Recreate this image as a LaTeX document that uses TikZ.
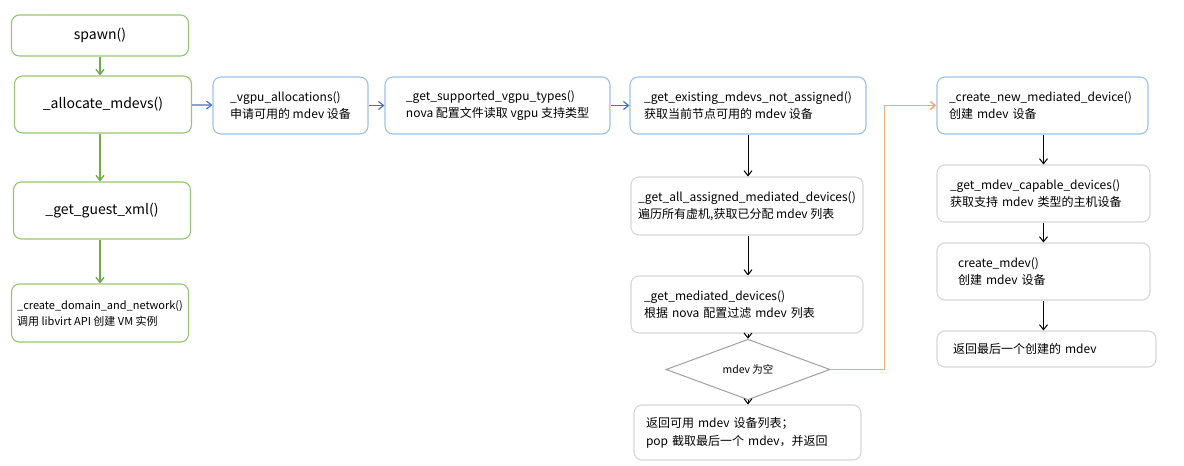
\documentclass[tikz,border=0pt]{standalone}
\usepackage{fontspec}
\setmainfont{Noto Sans CJK SC}
\definecolor{flow_green}{RGB}{150, 198, 115}
\definecolor{flow_garrow}{RGB}{112, 173, 71}
\definecolor{flow_blue}{RGB}{157, 195, 230}
\definecolor{flow_barrow}{RGB}{68, 114, 196}
\definecolor{flow_gray}{RGB}{215, 215, 215}
\definecolor{flow_dgray}{RGB}{160, 160, 160}
\definecolor{flow_orange}{RGB}{244, 170, 115}
\usetikzlibrary{arrows.meta, positioning, shapes.geometric}

\begin{document}
\begin{tikzpicture}[
        x=1pt, y=-1pt,
        box/.style={rounded corners=8pt, fill=white, line width=1.1pt,
                    minimum height=57pt, inner sep=0pt, align=left,
                    font=\fontsize{12}{17}\selectfont},
        gbox/.style={box, draw=flow_green, minimum width=177pt},
        bbox/.style={box, draw=flow_blue},
        hbox/.style={box, draw=flow_gray},
        cond/.style={diamond, draw=flow_dgray, line width=1pt, fill=white,
                     minimum width=164pt, minimum height=43pt, inner sep=0pt,
                     font=\fontsize{10.5}{12}\selectfont},
        tip/.style={-{Straight Barb[length=5pt, width=8pt]}},
        garr/.style={tip, flow_garrow, line width=1.4pt},
        barr/.style={tip, flow_barrow, line width=1.2pt},
        karr/.style={tip, black, line width=1pt},
        oarr/.style={-{Straight Barb[length=5pt, width=8pt]}, flow_orange, line width=1.5pt},
      ]
        \useasboundingbox (0,0) rectangle (1184,466);

        \node[gbox, minimum height=41pt, font=\fontsize{14}{16}\selectfont] (spawn) at (100,35.5) {spawn()};
        \node[gbox, font=\fontsize{14}{16}\selectfont] (alloc) at (103,104.5) {\_allocate\_mdevs()};
        \node[gbox, font=\fontsize{14}{16}\selectfont] (guest) at (102,210.5) {\_get\_guest\_xml()};
        \node[gbox, minimum height=58pt, font=\fontsize{11}{16}\selectfont] (domain) at (100,313)
            {\_create\_domain\_and\_network()\\调用 libvirt API 创建 VM 实例};

        \node[bbox, minimum width=155pt] (vgpu) at (290.5,105.5) {\_vgpu\_allocations()\\申请可用的 mdev 设备};
        \node[bbox, minimum width=225pt] (types) at (497.5,105.5) {\_get\_supported\_vgpu\_types()\\nova 配置文件读取 vgpu 支持类型};
        \node[bbox, minimum width=236pt] (existing) at (748,105.5) {\_get\_existing\_mdevs\_not\_assigned()\\获取当前节点可用的 mdev 设备};

        \node[hbox, minimum width=232pt, minimum height=58pt] (assigned) at (747,206) {\_get\_all\_assigned\_mediated\_devices()\\遍历所有虚机,获取已分配 mdev 列表};
        \node[hbox, minimum width=232pt, text width=206pt] (mediated) at (747,304.5) {\_get\_mediated\_devices()\\根据 nova 配置过滤 mdev 列表};
        \node[cond] (empty) at (748,369.5) {mdev 为空};
        \node[hbox, minimum width=227pt, minimum height=55pt, text width=203pt, font=\fontsize{12}{18}\selectfont] (retlist) at (747.5,432.5)
            {返回可用 mdev 设备列表；\\pop 截取最后一个 mdev，并返回};

        \node[bbox, minimum width=211pt, text width=187pt] (newdev) at (1042.5,105.5) {\_create\_new\_mediated\_device()\\创建 mdev 设备};
        \node[hbox, minimum width=213pt, text width=187pt] (capable) at (1043.5,193.5) {\_get\_mdev\_capable\_devices()\\获取支持 mdev 类型的主机设备};
        \node[hbox, minimum width=213pt, text width=171pt] (mkmdev) at (1043.5,271.5) {create\_mdev()\\创建 mdev 设备};
        \node[hbox, minimum width=219pt, minimum height=36pt, text width=187pt] (retlast) at (1046.5,349) {返回最后一个创建的 mdev};

        \draw[garr] (spawn.south) -- (spawn.south |- alloc.north);
        \draw[garr] (spawn.south |- alloc.south) -- (spawn.south |- guest.north);
        \draw[garr] (spawn.south |- guest.south) -- (domain.north);

        \draw[barr] (alloc) -- (vgpu);
        \draw[barr] (vgpu) -- (types);
        \draw[barr] (types) -- (existing);

        \draw[karr] (existing.south -| empty) -- (empty |- assigned.north);
        \draw[karr] (empty |- assigned.south) -- (empty |- mediated.north);
        \draw[karr] (empty |- mediated.south) -- (empty.north);
        \draw[karr] (empty.south) -- (empty |- retlist.north);

        \draw[oarr] (empty.east) -- ++(54,0) |- (newdev.west);

        \draw[karr] (newdev.south -| capable) -- (capable.north);
        \draw[karr] (capable) -- (mkmdev);
        \draw[karr] (mkmdev.south) -- (mkmdev.south |- retlast.north);
      \end{tikzpicture}
\end{document}
